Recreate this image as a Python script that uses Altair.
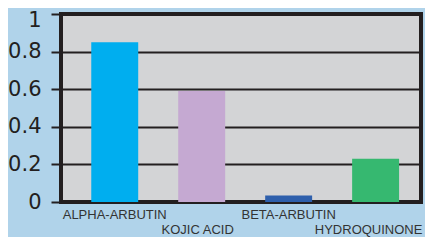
import altair as alt
import pandas as pd

categories = ["ALPHA-ARBUTIN", "KOJIC ACID", "BETA-ARBUTIN", "HYDROQUINONE"]
values = [0.85, 0.59, 0.035, 0.23]
colors = ["#00aeef", "#c5a9d2", "#2e5fac", "#36b870"]
y_ticks = [0, 0.2, 0.4, 0.6, 0.8, 1]

df = pd.DataFrame({"name": categories, "value": values})

xscale = alt.Scale(domain=categories, paddingInner=0.46, paddingOuter=0.3, align=0.58)

bars = alt.Chart(df).mark_bar().encode(
    x=alt.X("name:N", sort=categories, scale=xscale,
            axis=alt.Axis(title=None, labels=False, ticks=False, domain=False)),
    y=alt.Y("value:Q", scale=alt.Scale(domain=[0, 1], nice=False),
            axis=alt.Axis(title=None, values=y_ticks, format="~g",
                          labelFont="DejaVu Sans", labelFontSize=21,
                          labelColor="#231f20", labelPadding=10,
                          labelOffset={"condition": {"test": "datum.value == 1", "value": 6}, "value": 0},
                          tickSize=10, tickWidth=2, tickColor="#231f20",
                          grid=True, gridColor="#231f20", gridWidth=2,
                          domain=False)),
    color=alt.Color("name:N", sort=categories,
                    scale=alt.Scale(domain=categories, range=colors),
                    legend=None),
)

def label_layer(names, ypix, dx=0):
    return alt.Chart(df).transform_filter(
        alt.FieldOneOfPredicate(field="name", oneOf=names)
    ).mark_text(
        font="Liberation Sans", fontSize=13, color="#333333",
        baseline="alphabetic", align="center", dx=dx, clip=False
    ).encode(
        x=alt.X("name:N", sort=categories, scale=xscale),
        y=alt.value(ypix),
        text="name:N",
    )

# y positions are measured from the top of the plot area
row1 = label_layer(["ALPHA-ARBUTIN", "BETA-ARBUTIN"], 205)
row2a = label_layer(["KOJIC ACID"], 220, dx=-4)
row2b = label_layer(["HYDROQUINONE"], 220, dx=-7)

chart = alt.layer(bars, row1, row2a, row2b).properties(
    width=360, height=188,
    autosize=alt.AutoSizeParams(type="none"),
    padding={"left": 53, "top": 6, "right": 4, "bottom": 35},
    background="#b0d3ea",
).configure_view(
    fill="#d3d4d6", stroke="#231f20", strokeWidth=4
)

chart.save("out.html", embed_options={"renderer": "svg", "actions": False})
